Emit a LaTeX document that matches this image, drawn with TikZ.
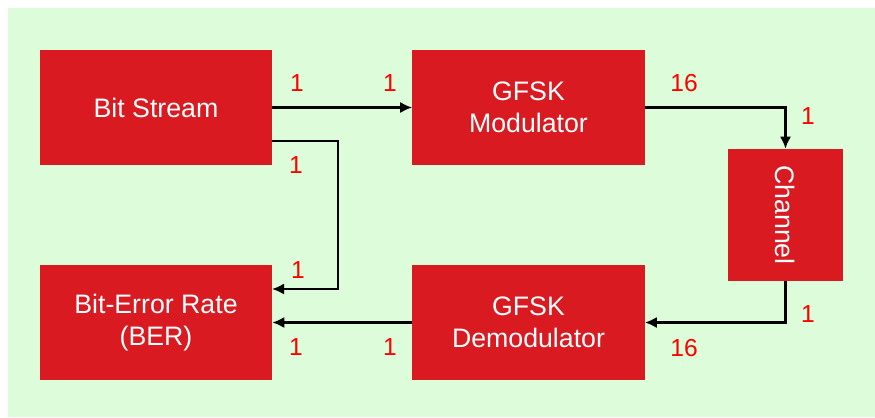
\documentclass[tikz,border=0pt]{standalone}
\usepackage{fontspec}
\setmainfont{Liberation Sans}
\usetikzlibrary{arrows.meta,positioning}
\definecolor{BoxRed}{HTML}{D91A21}
\definecolor{LabelRed}{HTML}{FF0000}
\definecolor{SoftGreen}{HTML}{DDFCD9}

\begin{document}
\begin{tikzpicture}[
  x=0.025cm,y=-0.025cm,
  block/.style={fill=BoxRed,text=white,minimum width=5.8cm,minimum height=2.875cm,align=center,font=\fontsize{19}{22.5}\selectfont,inner sep=0pt},
  chanbox/.style={block,minimum width=2.875cm,minimum height=3.3cm},
  lbl/.style={text=LabelRed,font=\fontsize{17.5}{20}\selectfont,inner sep=0pt},
  arrow/.style={-{Latex[length=3mm,width=2.8mm]},line width=1.7pt,draw=black}
]
\useasboundingbox (0,0) rectangle (875,417);
\fill[SoftGreen] (8,8) rectangle (875,417);
\node[block] (bs) at (156,107.5) {Bit Stream};
\node[block] (mod) at (528.5,107.5) {GFSK\\Modulator};
\node[chanbox] (chan) at (785.5,215) {\rotatebox{-90}{Channel}};
\node[block] (ber) at (156,322.5) {Bit-Error Rate\\(BER)};
\node[block] (demod) at (528.5,322.5) {GFSK\\Demodulator};
\coordinate (tap) at (272,141);
\coordinate (join) at (272,289);
\draw[arrow] (bs) -- (mod);
\draw[arrow] (tap) -- (338,141) |- (join);
\draw[arrow] (mod) -| (chan);
\draw[arrow] (chan) |- (demod);
\draw[arrow] (demod) -- (ber);
% port labels
\node[lbl] (l1) at (297,83) {1};
\node[lbl] (l2) at (390,83) {1};
\node[lbl] (l3) at (684,83) {16};
\node[lbl] (l4) at (808,116) {1};
\node[lbl] (l5) at (296,165) {1};
\node[lbl] (l6) at (298,270) {1};
\node[lbl] (l7) at (296,347) {1};
\node[lbl] (l8) at (390,347) {1};
\node[lbl] (l9) at (808,314) {1};
\node[lbl] (l10) at (684,348) {16};
\end{tikzpicture}
\end{document}
